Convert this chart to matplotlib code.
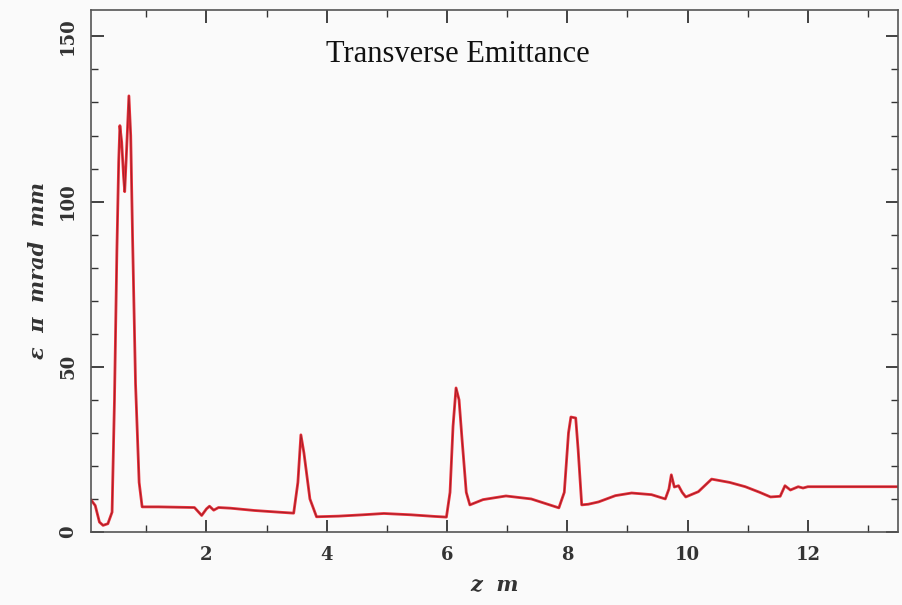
import numpy as np
import matplotlib
matplotlib.use('Agg')
import matplotlib.pyplot as plt
from matplotlib.ticker import MultipleLocator

# emittance along the beam line
z = [0.08, 0.15, 0.22, 0.28, 0.36, 0.43, 0.47, 0.51, 0.54, 0.56, 0.59, 0.62, 0.64,
     0.67, 0.71, 0.74, 0.77, 0.82, 0.88, 0.93, 1.2, 1.5, 1.8, 1.92, 2.0, 2.05, 2.12,
     2.2, 2.4, 2.8, 3.2, 3.45, 3.52, 3.57, 3.62, 3.72, 3.83, 4.2, 4.6, 4.95, 5.4,
     5.8, 5.99, 6.05, 6.1, 6.15, 6.2, 6.25, 6.32, 6.38, 6.6, 6.98, 7.4, 7.86, 7.95,
     8.02, 8.06, 8.14, 8.18, 8.24, 8.35, 8.52, 8.8, 9.07, 9.4, 9.63, 9.69, 9.73,
     9.78, 9.85, 9.91, 9.97, 10.18, 10.4, 10.7, 10.96, 11.2, 11.38, 11.54, 11.62,
     11.71, 11.84, 11.92, 12.0, 12.5, 13.0, 13.5]
emit = [9.7, 8.0, 3.0, 2.0, 2.5, 6.0, 40.0, 85.0, 112.0, 123.0, 118.0, 108.0, 103.0,
        115.0, 132.0, 120.0, 90.0, 45.0, 15.0, 7.6, 7.6, 7.5, 7.4, 5.0, 7.0, 7.8, 6.6,
        7.4, 7.2, 6.5, 6.0, 5.7, 15.0, 29.4, 24.0, 10.0, 4.6, 4.8, 5.2, 5.6, 5.2,
        4.7, 4.5, 12.0, 32.0, 43.6, 40.0, 28.0, 12.0, 8.2, 9.8, 10.9, 10.0, 7.3, 12.0,
        30.0, 34.8, 34.5, 25.0, 8.2, 8.4, 9.1, 11.0, 11.8, 11.3, 10.0, 13.0, 17.3,
        13.6, 14.0, 12.0, 10.6, 12.2, 16.0, 15.0, 13.7, 12.0, 10.6, 10.8, 14.0,
        12.7, 13.7, 13.3, 13.7, 13.7, 13.7, 13.7]

fig = plt.figure(figsize=(9.03, 6.05), dpi=100, facecolor='#fafafa')
ax = fig.add_axes([0.1008, 0.1207, 0.8937, 0.8628])
ax.set_facecolor('#fafafa')

ax.plot(z, emit, color='#e8303a', lw=2.0)
ax.plot(z, emit, color='#6a1018', lw=0.6, alpha=0.6)

ax.set_xlim(0.08, 13.5)
ax.set_ylim(0, 158)
ax.xaxis.set_major_locator(MultipleLocator(2))
ax.xaxis.set_minor_locator(MultipleLocator(1))
ax.yaxis.set_major_locator(MultipleLocator(50))
ax.yaxis.set_minor_locator(MultipleLocator(10))
ax.tick_params(which='both', direction='in', top=True, right=True, colors='#333333',
               labelsize=13, pad=10)
ax.tick_params(which='major', length=9, width=1.3)
ax.tick_params(which='minor', length=5, width=1.0)
for lab in ax.get_xticklabels() + ax.get_yticklabels():
    lab.set_family('DejaVu Serif')
    lab.set_weight('bold')
for lab in ax.get_yticklabels():
    lab.set_rotation(90)
    lab.set_va('center')
for sp in ax.spines.values():
    sp.set_color('#555555')
    sp.set_linewidth(1.2)

ax.set_xlabel('z  m', fontsize=15, labelpad=8, color='#333333', family='DejaVu Serif',
              style='italic', weight='bold')
ax.set_ylabel('ε  π  mrad  mm', fontsize=15, labelpad=8, color='#333333',
              family='DejaVu Serif', style='italic', weight='bold')
ax.text(0.455, 0.914, 'Transverse Emittance', transform=ax.transAxes, ha='center',
        va='center', fontsize=22, family='Liberation Serif', color='#111111')

fig.savefig('out.png', dpi=100, facecolor=fig.get_facecolor())
